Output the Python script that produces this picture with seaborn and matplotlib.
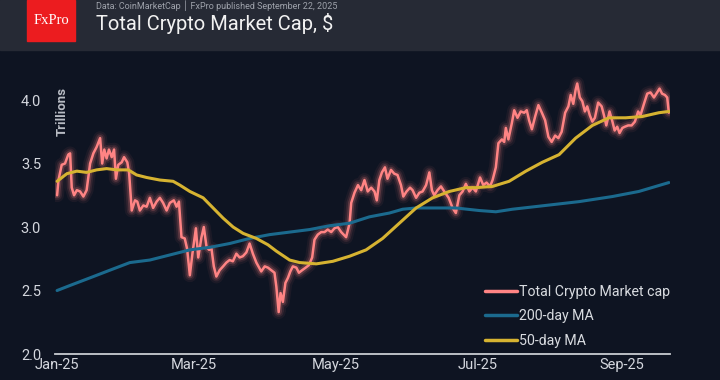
import pandas as pd
import numpy as np
import matplotlib.pyplot as plt
import matplotlib.dates as mdates
from matplotlib.patches import Rectangle
import seaborn as sns

sns.set_theme(style="dark")
plt.rcParams['font.family'] = ['Roboto', 'DejaVu Sans']

# data: days since 2025-01-01, values in trillions $
cap_days = [0, 0.6, 2.0, 3.4, 4.8, 5.6, 6.3, 7.3, 8.5, 9.9, 11.3, 12.7, 14.2, 15.6, 17.0, 18.5,
            19.4, 20.3, 21.3, 22.3, 23.5, 24.5, 25.3, 26.3, 27.8, 28.8, 30.2, 31.0, 32.1, 33.5,
            34.5, 35.6, 37.1, 38.5, 39.9, 41.3, 42.8, 44.2, 45.6, 47.1, 48.5, 50.2, 51.4, 52.4,
            53.5, 54.9, 55.9, 57.1, 58.2, 59.7, 60.7, 62.1, 63.1, 64.3, 65.4, 66.4, 67.4, 68.5,
            69.9, 71.4, 72.8, 74.2, 75.6, 77.1, 78.5, 79.9, 81.4, 82.8, 84.2, 85.7, 87.8, 89.3,
            90.7, 92.1, 93.5, 94.3, 95.3, 96.1, 97.1, 98.2, 99.3, 100.3, 101.4, 102.9, 104.0,
            105.4, 106.9, 108.3, 109.7, 110.7, 112.1, 113.6, 115.0, 116.4, 117.9, 119.3, 120.7,
            122.2, 124.3, 125.8, 126.5, 127.9, 129.4, 130.8, 132.2, 133.6, 135.1, 136.5, 137.5,
            138.6, 139.7, 141.0, 142.1, 143.6, 145.0, 146.4, 147.9, 148.9, 150.3, 151.8, 152.9,
            154.4, 155.8, 157.2, 158.7, 160.1, 161.2, 162.2, 163.6, 165.1, 166.5, 168.4, 170.1,
            171.5, 173.0, 174.4, 175.8, 177.3, 178.7, 180.1, 181.9, 183.3, 184.7, 186.2, 187.3,
            188.7, 189.8, 191.3, 192.3, 193.0, 194.1, 195.6, 196.6, 198.0, 199.4, 200.9, 202.0,
            203.0, 204.2, 205.6, 207.0, 208.5, 209.9, 211.3, 212.7, 214.2, 215.6, 217.0, 218.5,
            219.9, 220.9, 222.0, 223.0, 223.7, 224.8, 225.9, 227.0, 228.0, 229.1, 230.2, 231.3,
            232.7, 234.2, 235.2, 236.2, 237.6, 238.7, 239.8, 240.9, 241.9, 243.1, 244.2, 245.6,
            247.1, 248.5, 249.9, 250.9, 252.4, 253.8, 255.2, 256.7, 258.1, 259.1, 260.2, 261.4,
            262.4, 263.1]
cap_vals = [3.25, 3.37, 3.49, 3.50, 3.57, 3.58, 3.31, 3.25, 3.29, 3.28, 3.24, 3.29, 3.50, 3.58, 3.63, 3.70,
            3.50, 3.61, 3.54, 3.61, 3.55, 3.61, 3.38, 3.49, 3.51, 3.55, 3.51, 3.42, 3.13, 3.21,
            3.20, 3.13, 3.17, 3.16, 3.23, 3.15, 3.20, 3.23, 3.19, 3.13, 3.19, 3.21, 3.16, 3.20,
            2.92, 2.91, 2.83, 2.62, 2.79, 2.99, 2.76, 2.92, 3.00, 2.84, 2.82, 2.83, 2.69, 2.61,
            2.66, 2.69, 2.72, 2.74, 2.73, 2.79, 2.76, 2.77, 2.80, 2.87, 2.79, 2.72, 2.65, 2.69,
            2.68, 2.66, 2.64, 2.53, 2.33, 2.48, 2.41, 2.56, 2.60, 2.65, 2.69, 2.68, 2.64,
            2.66, 2.68, 2.70, 2.76, 2.90, 2.94, 2.96, 2.96, 2.98, 2.96, 2.99, 3.00,
            2.96, 2.92, 3.03, 3.19, 3.27, 3.33, 3.29, 3.37, 3.28, 3.31, 3.28, 3.21,
            3.37, 3.43, 3.47, 3.38, 3.45, 3.42, 3.41, 3.33, 3.24, 3.28, 3.31, 3.29,
            3.23, 3.27, 3.28, 3.33, 3.43, 3.29, 3.25, 3.29, 3.32, 3.28, 3.23, 3.15,
            3.11, 3.25, 3.28, 3.34, 3.28, 3.31, 3.28, 3.39, 3.33, 3.35, 3.32, 3.37,
            3.47, 3.66, 3.69, 3.67, 3.78, 3.69, 3.82, 3.92, 3.86, 3.91, 3.90, 3.92,
            3.84, 3.77, 3.87, 3.96, 3.90, 3.84, 3.71, 3.67, 3.72, 3.70, 3.75, 3.90,
            3.95, 4.04, 3.97, 4.08, 4.13, 4.02, 3.99, 3.91, 3.95, 3.88, 3.83, 3.86,
            3.98, 3.95, 3.88, 3.80, 3.91, 3.84, 3.76, 3.79, 3.74, 3.78, 3.79, 3.80,
            3.80, 3.83, 3.91, 3.88, 3.97, 4.05, 4.06, 4.02, 4.06, 4.09, 4.05, 4.04,
            4.02, 3.90]

ma50_days = [0, 4.2, 8.5, 12.7, 17.0, 21.3, 25.6, 30.6, 34.2, 38.5, 44.2, 49.9, 52.8, 57.1, 62.8,
             67.1, 71.4, 75.7, 80.0, 85.7, 90.7, 94.3, 100.0, 104.3, 111.5, 118.6, 125.8, 132.9,
             140.0, 147.2, 154.4, 161.5, 168.7, 175.8, 180.1, 187.3, 194.4, 201.6, 208.7, 215.9,
             223.0, 230.2, 237.3, 244.5, 251.6, 258.8, 263.1]
ma50_vals = [3.36, 3.42, 3.44, 3.43, 3.45, 3.46, 3.45, 3.45, 3.41, 3.39, 3.37, 3.36, 3.33, 3.28, 3.23,
             3.15, 3.07, 3.00, 2.95, 2.91, 2.86, 2.81, 2.74, 2.72, 2.71, 2.73, 2.77, 2.82,
             2.91, 3.03, 3.15, 3.23, 3.28, 3.31, 3.31, 3.32, 3.36, 3.44, 3.51, 3.57,
             3.70, 3.80, 3.86, 3.86, 3.87, 3.90, 3.91]

ma200_days = [0, 5.6, 14.2, 22.7, 31.3, 39.9, 48.5, 57.1, 65.7, 74.2, 82.8, 91.4, 100.0, 108.6,
              117.2, 125.8, 134.3, 142.9, 148.6, 154.4, 163.0, 171.5, 181.5, 188.7, 195.8, 210.2,
              224.5, 238.8, 250.2, 263.1]
ma200_vals = [2.50, 2.54, 2.60, 2.66, 2.72, 2.74, 2.78, 2.82, 2.84, 2.87, 2.91, 2.94, 2.96, 2.98,
              3.01, 3.03, 3.08, 3.11, 3.14, 3.15, 3.15, 3.15, 3.13, 3.12, 3.14, 3.17,
              3.20, 3.24, 3.28, 3.35]

start = pd.Timestamp("2025-01-01")
cap = pd.DataFrame({"date": start + pd.to_timedelta(cap_days, unit="D"), "v": cap_vals})
ma50 = pd.DataFrame({"date": start + pd.to_timedelta(ma50_days, unit="D"), "v": ma50_vals})
ma200 = pd.DataFrame({"date": start + pd.to_timedelta(ma200_days, unit="D"), "v": ma200_vals})

bg = "#0e1422"
pink = "#ff8484"
blue = "#1b6a8e"
yellow = "#d6b331"

fig = plt.figure(figsize=(7.2, 3.8), dpi=100, facecolor=bg)
ax = fig.add_axes([55/720, 26/380, 615/720, 304/380])
ax.set_facecolor(bg)

# glow under the market cap line
for lw, a in [(10, 0.06), (7, 0.1), (4.5, 0.2)]:
    ax.plot(cap["date"], cap["v"], color=pink, lw=lw, alpha=a, solid_capstyle="round")
sns.lineplot(data=cap, x="date", y="v", color=pink, lw=1.8, ax=ax, label="Total Crypto Market cap")
sns.lineplot(data=ma200, x="date", y="v", color=blue, lw=2.2, ax=ax, label="200-day MA")
sns.lineplot(data=ma50, x="date", y="v", color=yellow, lw=2.2, ax=ax, label="50-day MA")

ax.set_xlim(start - pd.Timedelta(days=0.9), start + pd.Timedelta(days=263.6))
ax.set_ylim(2.0, 4.394)
ax.set_yticks([2.0, 2.5, 3.0, 3.5, 4.0])
ax.yaxis.set_major_formatter(plt.FormatStrFormatter("%.1f"))
ax.xaxis.set_major_locator(mdates.MonthLocator(bymonth=[1, 3, 5, 7, 9]))
ax.xaxis.set_major_formatter(mdates.DateFormatter("%b-%y"))
ax.tick_params(axis="both", length=0, labelsize=10.5, colors="#d4d7de")
ax.tick_params(axis="y", pad=10)
ax.tick_params(axis="x", pad=3)
ax.set_xlabel("")
ax.set_ylabel("")
ax.grid(False)
for s in ["top", "right", "left"]:
    ax.spines[s].set_visible(False)
ax.spines["bottom"].set_color("#c9ccd2")
ax.spines["bottom"].set_linewidth(1.3)

fig.text(62/720, 1 - 112/380, "Trillions", rotation=90, ha="center", va="center",
         color="#b9bdc5", fontsize=9.5, fontweight="bold")

leg = ax.legend(loc="upper left", bbox_to_anchor=(472/720, 1 - 272/380),
                bbox_transform=fig.transFigure, frameon=False, fontsize=10.2,
                handlelength=2.3, handletextpad=0.1, labelspacing=0.75)
for t in leg.get_texts():
    t.set_color("#d8dbe0")
for h in leg.get_lines():
    h.set_linewidth(2.5)

# header band
fig.patches.append(Rectangle((0, 1 - 50/380), 1, 50/380, transform=fig.transFigure,
                             color="#262a35", zorder=0))
fig.patches.append(Rectangle((27/720, 1 - 41/380), 48/720, 41/380, transform=fig.transFigure,
                             color="#ec1c1f", zorder=1))
fig.text(51/720, 1 - 20/380, "FxPro", ha="center", va="center", color="white",
         fontsize=10.5, family="Liberation Serif")
fig.text(96/720, 1 - 6/380, "Data: CoinMarketCap \u2502 FxPro published September 22, 2025",
         ha="left", va="center", color="#9ea2ab", fontsize=6.5)
fig.text(96/720, 1 - 24/380, "Total Crypto Market Cap, $", ha="left", va="center",
         color="#f2f2f2", fontsize=14.5)

plt.savefig("out.png", dpi=100, facecolor=bg)
